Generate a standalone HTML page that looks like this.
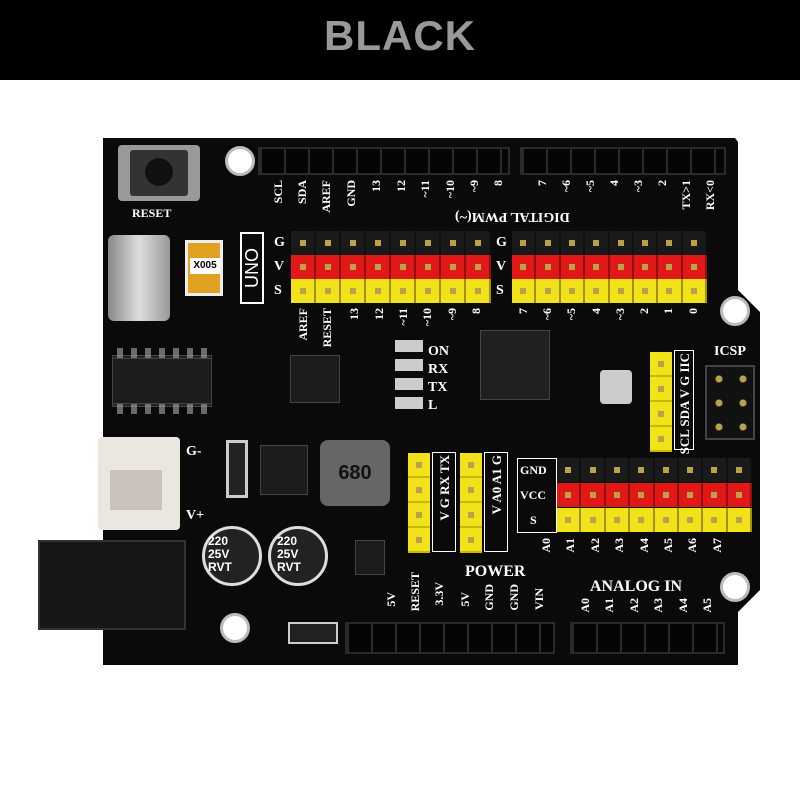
<!DOCTYPE html>
<html><head><style>
*{margin:0;padding:0;box-sizing:border-box}
body{width:800px;height:800px;background:#fff;position:relative;overflow:hidden;font-family:"Liberation Serif",serif}
.a{position:absolute}
.t{position:absolute;color:#fff;font-size:12px;font-weight:bold;white-space:nowrap}
.v{writing-mode:vertical-rl;transform:rotate(180deg)}
.hdr{position:absolute;background:#111;border:2px solid #2a2a2a;
background-image:repeating-linear-gradient(90deg,#2b2b2b 0 2px,#050505 2px 24px)}
.row{position:absolute;height:24px;display:flex}
.row div{flex:1;border-right:2px solid rgba(0,0,0,.35);position:relative}
.row div:after{content:"";position:absolute;left:50%;top:50%;width:6px;height:6px;margin:-3px;background:#b9a24a}
.k{background:#1a1a1a}.r{background:#e01818}.y{background:#f2e21a}
.col{position:absolute;width:22px;background:#f2e21a;display:flex;flex-direction:column}
.col div{flex:1;border-bottom:2px solid #c8b800;position:relative}
.col div:after{content:"";position:absolute;left:8px;top:40%;width:6px;height:6px;background:#b9a24a}
.chip{position:absolute;background:#1c1c1c;border:1px solid #444}
.hole{position:absolute;width:30px;height:30px;border-radius:50%;background:#fff;border:3px solid #bbb}
</style></head><body>
<div class="a" style="left:0;top:0;width:800px;height:80px;background:#000"></div>
<div class="a" style="left:0;top:12px;width:800px;text-align:center;font:bold 42px 'Liberation Sans',sans-serif;color:#999;letter-spacing:1px">BLACK</div>

<!-- board -->
<svg class="a" style="left:0;top:0" width="800" height="800">
<path d="M103 138 L735 138 L738 142 L738 290 L760 312 L760 590 L738 612 L738 665 L103 665 Z" fill="#0a0a0a"/>
</svg>
<div class="hole" style="left:225px;top:146px"></div>
<div class="hole" style="left:720px;top:296px"></div>
<div class="hole" style="left:720px;top:572px"></div>
<div class="hole" style="left:220px;top:613px"></div>

<div class="hdr" style="left:258px;top:147px;width:252px;height:28px"></div>
<div class="hdr" style="left:520px;top:147px;width:206px;height:28px"></div>
<div class="hdr" style="left:345px;top:622px;width:210px;height:32px"></div>
<div class="hdr" style="left:570px;top:622px;width:155px;height:32px"></div>

<!-- top labels -->
<div class="t v" style="left:271px;top:180px">SCL</div>
<div class="t v" style="left:295px;top:180px">SDA</div>
<div class="t v" style="left:319px;top:180px">AREF</div>
<div class="t v" style="left:344px;top:180px">GND</div>
<div class="t v" style="left:369px;top:180px">13</div>
<div class="t v" style="left:394px;top:180px">12</div>
<div class="t v" style="left:418px;top:180px">~11</div>
<div class="t v" style="left:443px;top:180px">~10</div>
<div class="t v" style="left:467px;top:180px">~9</div>
<div class="t v" style="left:491px;top:180px">8</div>
<div class="t" style="left:455px;top:208px;font-size:14px;transform:rotate(180deg)">DIGITAL PWM(~)</div>
<div class="t v" style="left:535px;top:180px">7</div>
<div class="t v" style="left:559px;top:180px">~6</div>
<div class="t v" style="left:583px;top:180px">~5</div>
<div class="t v" style="left:607px;top:180px">4</div>
<div class="t v" style="left:631px;top:180px">~3</div>
<div class="t v" style="left:655px;top:180px">2</div>
<div class="t v" style="left:679px;top:180px">TX>1</div>
<div class="t v" style="left:703px;top:180px">RX<0</div>

<div class="a" style="left:240px;top:232px;width:24px;height:72px;border:2px solid #fff;color:#fff;font:18px 'Liberation Sans';writing-mode:vertical-rl;transform:rotate(180deg);text-align:center">UNO</div>
<div class="t" style="left:274px;top:235px;font-size:14px">G</div>
<div class="t" style="left:274px;top:259px;font-size:14px">V</div>
<div class="t" style="left:274px;top:283px;font-size:14px">S</div>
<div class="t" style="left:496px;top:235px;font-size:14px">G</div>
<div class="t" style="left:496px;top:259px;font-size:14px">V</div>
<div class="t" style="left:496px;top:283px;font-size:14px">S</div>

<div class="row k" style="left:291px;top:231px;width:200px"><div></div><div></div><div></div><div></div><div></div><div></div><div></div><div></div></div>
<div class="row r" style="left:291px;top:255px;width:200px"><div></div><div></div><div></div><div></div><div></div><div></div><div></div><div></div></div>
<div class="row y" style="left:291px;top:279px;width:200px"><div></div><div></div><div></div><div></div><div></div><div></div><div></div><div></div></div>
<div class="row k" style="left:512px;top:231px;width:195px"><div></div><div></div><div></div><div></div><div></div><div></div><div></div><div></div></div>
<div class="row r" style="left:512px;top:255px;width:195px"><div></div><div></div><div></div><div></div><div></div><div></div><div></div><div></div></div>
<div class="row y" style="left:512px;top:279px;width:195px"><div></div><div></div><div></div><div></div><div></div><div></div><div></div><div></div></div>

<div class="t v" style="left:296px;top:308px">AREF</div>
<div class="t v" style="left:320px;top:308px">RESET</div>
<div class="t v" style="left:347px;top:308px">13</div>
<div class="t v" style="left:372px;top:308px">12</div>
<div class="t v" style="left:396px;top:308px">~11</div>
<div class="t v" style="left:420px;top:308px">~10</div>
<div class="t v" style="left:445px;top:308px">~9</div>
<div class="t v" style="left:469px;top:308px">8</div>
<div class="t v" style="left:516px;top:308px">7</div>
<div class="t v" style="left:540px;top:308px">~6</div>
<div class="t v" style="left:564px;top:308px">~5</div>
<div class="t v" style="left:589px;top:308px">4</div>
<div class="t v" style="left:613px;top:308px">~3</div>
<div class="t v" style="left:637px;top:308px">2</div>
<div class="t v" style="left:661px;top:308px">1</div>
<div class="t v" style="left:686px;top:308px">0</div>

<!-- left components -->
<div class="a" style="left:118px;top:145px;width:82px;height:56px;background:#999;border-radius:4px"></div>
<div class="a" style="left:130px;top:150px;width:58px;height:46px;background:#333;border-radius:3px"></div>
<div class="a" style="left:145px;top:158px;width:28px;height:28px;background:#111;border-radius:50%"></div>
<div class="t" style="left:132px;top:206px">RESET</div>
<div class="a" style="left:108px;top:235px;width:62px;height:86px;background:linear-gradient(90deg,#888,#ddd,#999);border-radius:6px"></div>
<div class="a" style="left:185px;top:240px;width:38px;height:56px;background:#e0a020;border:3px solid #eee"></div>
<div class="a" style="left:190px;top:258px;width:30px;height:16px;background:#fff;font:bold 10px 'Liberation Sans';text-align:center;line-height:16px">X005</div>
<div class="chip" style="left:112px;top:355px;width:100px;height:52px;background:#222"></div>
<div class="a" style="left:112px;top:348px;width:100px;height:66px;background:repeating-linear-gradient(90deg,transparent 0 5px,#aaa 5px 11px,transparent 11px 14px);z-index:-0;opacity:.6"></div>
<div class="chip" style="left:112px;top:358px;width:100px;height:46px"></div>
<div class="a" style="left:98px;top:437px;width:82px;height:93px;background:#eae6e0;border-radius:4px"></div>
<div class="a" style="left:110px;top:470px;width:52px;height:40px;background:#c9c3bb"></div>
<div class="t" style="left:186px;top:444px;font-size:14px">G-</div>
<div class="t" style="left:186px;top:508px;font-size:14px">V+</div>
<div class="a" style="left:38px;top:540px;width:148px;height:90px;background:#161616;border:2px solid #333"></div>
<div class="a" style="left:226px;top:440px;width:22px;height:58px;background:#222;border:3px solid #ccc"></div>
<div class="chip" style="left:260px;top:445px;width:48px;height:50px"></div>
<div class="a" style="left:320px;top:440px;width:70px;height:66px;background:#666;border-radius:8px;color:#111;font:bold 20px 'Liberation Sans';text-align:center;line-height:66px">680</div>
<div class="a" style="left:202px;top:526px;width:60px;height:60px;border-radius:50%;background:#222;border:3px solid #ddd"></div>
<div class="a" style="left:268px;top:526px;width:60px;height:60px;border-radius:50%;background:#222;border:3px solid #ddd"></div>
<div class="a" style="left:208px;top:535px;color:#fff;font:bold 12px/13px 'Liberation Sans'">220<br>25V<br>RVT</div>
<div class="a" style="left:277px;top:535px;color:#fff;font:bold 12px/13px 'Liberation Sans'">220<br>25V<br>RVT</div>
<div class="chip" style="left:355px;top:540px;width:30px;height:35px"></div>
<div class="a" style="left:288px;top:622px;width:50px;height:22px;background:#222;border:2px solid #ccc"></div>
<div class="chip" style="left:290px;top:355px;width:50px;height:48px"></div>
<div class="a" style="left:395px;top:340px;width:28px;height:75px;background:repeating-linear-gradient(#ccc 0 12px,#0a0a0a 12px 19px)"></div>
<div class="t" style="left:428px;top:344px;font-size:14px">ON</div>
<div class="t" style="left:428px;top:362px;font-size:14px">RX</div>
<div class="t" style="left:428px;top:380px;font-size:14px">TX</div>
<div class="t" style="left:428px;top:398px;font-size:14px">L</div>
<div class="chip" style="left:480px;top:330px;width:70px;height:70px;background:#202020"></div>
<div class="a" style="left:600px;top:370px;width:32px;height:34px;background:#ccc;border-radius:4px"></div>

<!-- yellow columns -->
<div class="col" style="left:408px;top:453px;height:100px"><div></div><div></div><div></div><div></div></div>
<div class="col" style="left:460px;top:453px;height:100px"><div></div><div></div><div></div><div></div></div>
<div class="col" style="left:650px;top:352px;height:100px"><div></div><div></div><div></div><div></div></div>
<div class="a" style="left:432px;top:452px;width:24px;height:100px;border:1px solid #fff"></div>
<div class="a" style="left:484px;top:452px;width:24px;height:100px;border:1px solid #fff"></div>
<div class="a" style="left:674px;top:350px;width:20px;height:100px;border:1px solid #fff"></div>
<div class="t v" style="left:437px;top:455px;font-size:13px">V G RX TX</div>
<div class="t v" style="left:489px;top:455px;font-size:13px">V A0 A1 G</div>
<div class="t v" style="left:677px;top:353px;font-size:13px">SCL SDA V G IIC</div>
<div class="t" style="left:714px;top:344px;font-size:14px">ICSP</div>
<div class="a" style="left:705px;top:365px;width:50px;height:75px;background:#111;border:2px solid #444;background-image:radial-gradient(circle,#b9a24a 3px,transparent 4px);background-size:24px 24px"></div>

<!-- analog rows -->
<div class="a" style="left:517px;top:458px;width:40px;height:75px;border:1px solid #fff"></div>
<div class="t" style="left:520px;top:463px">GND</div>
<div class="t" style="left:520px;top:488px">VCC</div>
<div class="t" style="left:530px;top:513px">S</div>
<div class="row k" style="left:557px;top:458px;width:195px"><div></div><div></div><div></div><div></div><div></div><div></div><div></div><div></div></div>
<div class="row r" style="left:557px;top:483px;width:195px"><div></div><div></div><div></div><div></div><div></div><div></div><div></div><div></div></div>
<div class="row y" style="left:557px;top:508px;width:195px"><div></div><div></div><div></div><div></div><div></div><div></div><div></div><div></div></div>
<div class="t v" style="left:539px;top:538px">A0</div>
<div class="t v" style="left:563px;top:538px">A1</div>
<div class="t v" style="left:588px;top:538px">A2</div>
<div class="t v" style="left:612px;top:538px">A3</div>
<div class="t v" style="left:637px;top:538px">A4</div>
<div class="t v" style="left:661px;top:538px">A5</div>
<div class="t v" style="left:685px;top:538px">A6</div>
<div class="t v" style="left:710px;top:538px">A7</div>

<!-- bottom labels -->
<div class="t" style="left:465px;top:563px;font-size:16px">POWER</div>
<div class="t" style="left:590px;top:578px;font-size:16px">ANALOG IN</div>
<div class="t v" style="left:384px;top:592px">5V</div>
<div class="t v" style="left:408px;top:572px">RESET</div>
<div class="t v" style="left:432px;top:582px">3.3V</div>
<div class="t v" style="left:458px;top:592px">5V</div>
<div class="t v" style="left:482px;top:584px">GND</div>
<div class="t v" style="left:507px;top:584px">GND</div>
<div class="t v" style="left:532px;top:588px">VIN</div>
<div class="t v" style="left:578px;top:598px">A0</div>
<div class="t v" style="left:602px;top:598px">A1</div>
<div class="t v" style="left:627px;top:598px">A2</div>
<div class="t v" style="left:651px;top:598px">A3</div>
<div class="t v" style="left:676px;top:598px">A4</div>
<div class="t v" style="left:700px;top:598px">A5</div>
</body></html>
